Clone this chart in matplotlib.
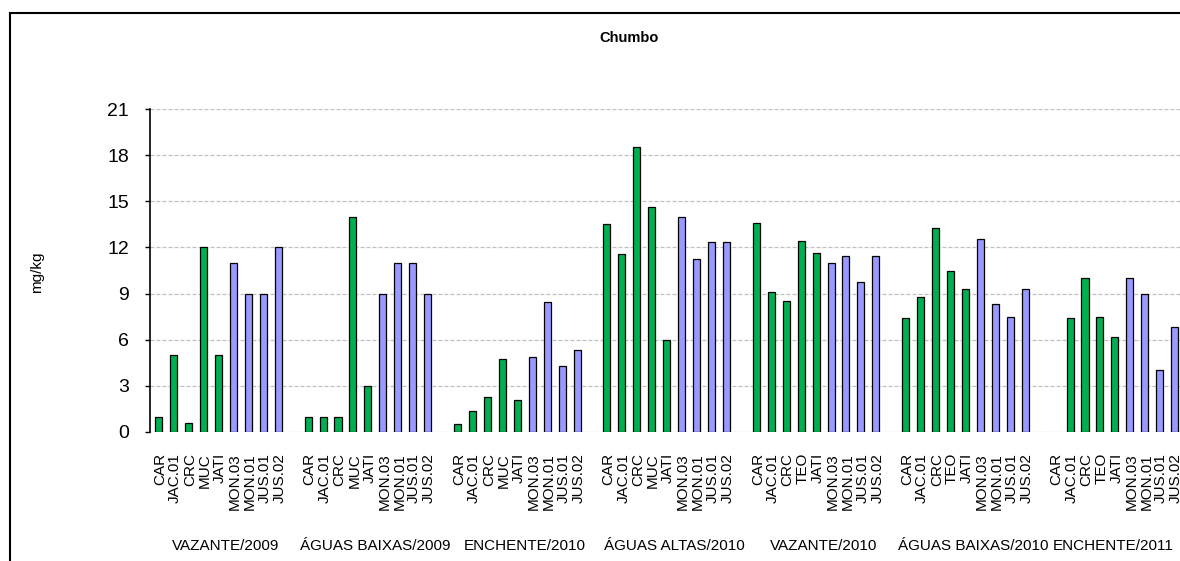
import numpy as np
import matplotlib
matplotlib.use("Agg")
import matplotlib.pyplot as plt
from matplotlib.patches import Rectangle
from matplotlib.transforms import blended_transform_factory

plt.rcParams['font.family'] = ['Liberation Sans', 'DejaVu Sans']

# Campaigns (hydrological periods) and sampling stations
campaigns = ["VAZANTE/2009", "ÁGUAS BAIXAS/2009", "ENCHENTE/2010",
             "ÁGUAS ALTAS/2010", "VAZANTE/2010", "ÁGUAS BAIXAS/2010",
             "ENCHENTE/2011"]

stations_a = ["CAR", "JAC.01", "CRC", "MUC", "JATI", "MON.03", "MON.01", "JUS.01", "JUS.02"]
stations_b = ["CAR", "JAC.01", "CRC", "TEO", "JATI", "MON.03", "MON.01", "JUS.01", "JUS.02"]
stations = [stations_a, stations_a, stations_a, stations_a,
            stations_b, stations_b, stations_b]

# Lead concentration (mg/kg) per campaign, in station order
vazante_2009 = [1.0, 5.0, 0.6, 12.0, 5.0, 11.0, 9.0, 9.0, 12.0]
aguas_baixas_2009 = [1.0, 1.0, 1.0, 14.0, 3.0, 9.0, 11.0, 11.0, 9.0]
enchente_2010 = [0.5, 1.35, 2.25, 4.75, 2.1, 4.85, 8.45, 4.3, 5.3]
aguas_altas_2010 = [13.5, 11.55, 18.5, 14.6, 6.0, 14.0, 11.25, 12.35, 12.35]
vazante_2010 = [13.6, 9.1, 8.5, 12.45, 11.65, 11.0, 11.45, 9.75, 11.45]
aguas_baixas_2010 = [7.4, 8.75, 13.25, 10.45, 9.3, 12.55, 8.3, 7.5, 9.3]
enchente_2011 = [np.nan, 7.4, 10.0, 7.5, 6.15, 10.0, 9.0, 4.05, 6.85]
values = [vazante_2009, aguas_baixas_2009, enchente_2010, aguas_altas_2010,
          vazante_2010, aguas_baixas_2010, enchente_2011]

y_ticks = [0, 3, 6, 9, 12, 15, 18, 21]

GREEN = "#00B050"
BLUE = "#9999FF"
blue_stations = {"MON.03", "MON.01", "JUS.01", "JUS.02"}

W, H = 1180, 561
fig = plt.figure(figsize=(W / 100, H / 100), dpi=100)

slot = 14.94
x0_px = 150.5
n_slots = 70
ax = fig.add_axes([x0_px / W, 1 - 432 / H, n_slots * slot / W, (432 - 109) / H])

# Lay out each campaign as 9 bars followed by one empty slot
xs, hs, cs, labels = [], [], [], []
group_centers = []
for g, (sts, vals) in enumerate(zip(stations, values)):
    base = g * 10
    group_centers.append(base + 4.5)
    for k, (s, v) in enumerate(zip(sts, vals)):
        xs.append(base + k)
        hs.append(v)
        cs.append(BLUE if s in blue_stations else GREEN)
        labels.append(s)

ax.bar(xs, hs, width=0.47, color=cs, edgecolor="black", linewidth=0.9, zorder=3)

ax.set_xlim(-0.55, n_slots - 0.55)
ax.set_ylim(0, 21)
ax.set_yticks(y_ticks)
ax.set_yticklabels([str(t) for t in y_ticks], fontsize=14)
ax.set_xticks([x + 0.1 for x in xs])
ax.set_xticklabels(labels, rotation=90, fontsize=11, ha="center", va="top")
ax.tick_params(axis="x", length=0, pad=15)
ax.tick_params(axis="y", direction="out", length=3.6, width=1.0, pad=12)

for side in ("top", "right", "bottom"):
    ax.spines[side].set_visible(False)
ax.spines["left"].set_linewidth(1.2)

ax.set_axisbelow(True)
ax.yaxis.grid(True, color="#C0C0C0", linewidth=0.9, linestyle=(0, (3.2, 1.6)))
ax.xaxis.grid(False)

# Campaign names under each block of stations; the last one is kept
# inside the visible canvas
group_centers[-1] -= 0.6
trans = blended_transform_factory(ax.transData, fig.transFigure)
for c, name in zip(group_centers, campaigns):
    ax.text(c, 1 - 546 / H, name, transform=trans, ha="center", va="center",
            fontsize=11, clip_on=False)

fig.text(37 / W, 1 - 272 / H, "mg/kg", rotation=90, ha="center", va="center",
         fontsize=11)
fig.text(629 / W, 1 - 38 / H, "Chumbo", ha="center", va="center",
         fontsize=10.5, fontweight="bold")

# Chart-area border
fig.patches.append(Rectangle((10 / W, -0.1), 1.2, 1.1 - 13 / H,
                             transform=fig.transFigure, fill=False,
                             edgecolor="black", linewidth=1.5, zorder=10))

fig.savefig("out.png", dpi=100)
